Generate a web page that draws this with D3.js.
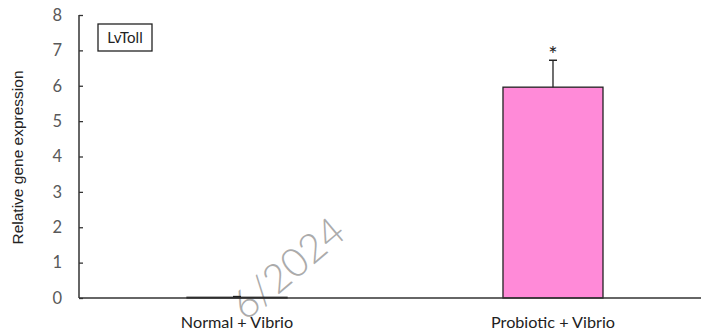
<!DOCTYPE html>
<html><head><meta charset="utf-8">
<script src="https://cdn.jsdelivr.net/npm/d3@7"></script>
<style>body{margin:0;background:#fff}svg{display:block}</style>
</head><body>
<script>
const categories = ["Normal + Vibrio", "Probiotic + Vibrio"];
const values = [0.02, 5.96];
const errors = [0.02, 0.76];
const significance = ["", "*"];
const yTicks = [0, 1, 2, 3, 4, 5, 6, 7, 8];
const geneLabel = "LvToll";
const yTitle = "Relative gene expression";
const watermark = "6/2024";

const W = 701, H = 335;
const svg = d3.select("body").append("svg").attr("width", W).attr("height", H);
const x0 = 79, yTop = 15, yBot = 298;

const y = d3.scaleLinear().domain([0, 8]).range([yBot, yTop]);
const x = d3.scaleBand().domain(categories).range([x0, 711])
  .paddingInner(0.6835).paddingOuter(0.3418);

// watermark
svg.append("text").attr("transform", "translate(348,236) rotate(-40)")
  .attr("text-anchor", "end").attr("font-family", "Lato, 'DejaVu Sans', sans-serif")
  .attr("font-weight", 300).attr("font-size", 40).attr("fill", "#ababab")
  .text(watermark);

// y axis
const yAxis = svg.append("g").attr("transform", `translate(${x0},0)`)
  .call(d3.axisRight(y).tickValues(yTicks).tickSize(4).tickFormat(d3.format("d")));
yAxis.select(".domain").remove();
yAxis.selectAll(".tick line").attr("stroke", "#333").attr("stroke-width", 1.3);
yAxis.selectAll(".tick text").attr("x", -17).attr("text-anchor", "end")
  .attr("fill", "#595959").attr("font-size", 16.5).attr("font-family", "Lato, sans-serif");
svg.append("line").attr("x1", x0).attr("x2", x0).attr("y1", yTop).attr("y2", yBot)
  .attr("stroke", "#333").attr("stroke-width", 1.5);

// bars
svg.selectAll("rect.bar").data(categories).join("rect").attr("class", "bar")
  .attr("x", d => x(d)).attr("width", x.bandwidth())
  .attr("y", (d, i) => y(values[i])).attr("height", (d, i) => y(0) - y(values[i]))
  .attr("fill", "#ff8ad8").attr("stroke", "#222").attr("stroke-width", 1.3);

// error bars
categories.forEach((c, i) => {
  const cx = x(c) + x.bandwidth() / 2;
  const top = y(values[i] + errors[i]);
  svg.append("line").attr("x1", cx).attr("x2", cx).attr("y1", y(values[i])).attr("y2", top)
    .attr("stroke", "#222").attr("stroke-width", 1.3);
  svg.append("line").attr("x1", cx - 4).attr("x2", cx + 4).attr("y1", top).attr("y2", top)
    .attr("stroke", "#222").attr("stroke-width", 1.5);
  if (significance[i]) {
    svg.append("text").attr("x", cx).attr("y", top + 2).attr("text-anchor", "middle")
      .attr("font-size", 22).attr("font-family", "Lato, sans-serif").attr("fill", "#222")
      .text(significance[i]);
  }
});

// x axis
svg.append("line").attr("x1", x0).attr("x2", W).attr("y1", yBot).attr("y2", yBot)
  .attr("stroke", "#333").attr("stroke-width", 1.5);
svg.selectAll("text.cat").data(categories).join("text").attr("class", "cat")
  .attr("x", d => x(d) + x.bandwidth() / 2).attr("y", 328).attr("text-anchor", "middle")
  .attr("font-size", 16.2).attr("font-family", "Lato, sans-serif").attr("fill", "#222")
  .text(d => d);

// y title
svg.append("text").attr("transform", `translate(23,${(yTop + yBot) / 2 + 1}) rotate(-90)`)
  .attr("text-anchor", "middle").attr("font-size", 15.5)
  .attr("font-family", "'Liberation Sans', Arial, sans-serif").attr("fill", "#222")
  .text(yTitle);

// gene label box
const gx = 98, gy = 24, gw = 54, gh = 27;
svg.append("rect").attr("x", gx).attr("y", gy).attr("width", gw).attr("height", gh)
  .attr("fill", "#fff").attr("stroke", "#222").attr("stroke-width", 1.3);
svg.append("text").attr("x", gx + gw / 2).attr("y", gy + gh / 2 + 5).attr("text-anchor", "middle")
  .attr("font-size", 15).attr("font-family", "Lato, sans-serif").attr("fill", "#222")
  .text(geneLabel);
</script>
</body></html>
